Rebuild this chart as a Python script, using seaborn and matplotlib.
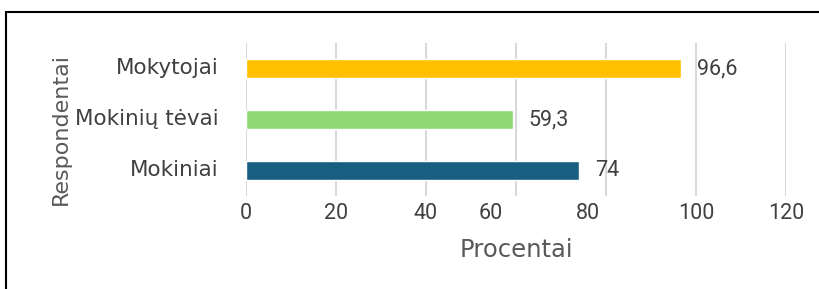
import matplotlib
matplotlib.use("Agg")
import matplotlib.pyplot as plt
import matplotlib.transforms as mtransforms
from matplotlib.patches import Rectangle
import seaborn as sns

# data
respondentai = ["Mokytojai", "Mokinių tėvai", "Mokiniai"]
procentai = [96.6, 59.3, 74]
spalvos = ["#FFC000", "#8FD872", "#175E80"]
x_ticks = [0, 20, 40, 60, 80, 100, 120]

sns.set_style("white")
plt.rcParams['font.family'] = ['DejaVu Sans']
skaiciai = ['Roboto', 'DejaVu Sans']  # narrower digits

fig = plt.figure(figsize=(8.19, 2.89), dpi=100)
ax = fig.add_axes([0.3004, 0.3218, 0.6593, 0.529])

sns.barplot(x=procentai, y=respondentai, hue=respondentai, palette=spalvos,
            width=0.37, legend=False, ax=ax, saturation=1)

ax.set_xlim(0, 120)
ax.set_xticks(x_ticks)
ax.set_xticklabels([str(t) for t in x_ticks], family=skaiciai, fontsize=15.5, color="#404040")
ax.grid(axis="x", color="#d9d9d9", linewidth=1.5)
ax.set_axisbelow(True)
for s in ax.spines.values():
    s.set_visible(False)
ax.tick_params(axis="both", length=0)
ax.tick_params(axis="x", pad=5)
ax.tick_params(axis="y", labelsize=15.5, labelcolor="#404040", pad=20)

# reference places the 60 and 80 labels a bit to the left
shifts = {"60": -25, "80": -18}
for lab in ax.get_xticklabels():
    dx = shifts.get(lab.get_text(), 0)
    if dx:
        lab.set_transform(lab.get_transform() +
                          mtransforms.ScaledTranslation(dx / 100, 0, fig.dpi_scale_trans))
for lab in ax.get_yticklabels():
    lab.set_transform(lab.get_transform() +
                      mtransforms.ScaledTranslation(0, 3 / 100, fig.dpi_scale_trans))

for cont in ax.containers:
    ax.bar_label(cont, labels=[f"{v:g}".replace(".", ",") for v in cont.datavalues],
                 padding=11.5, fontsize=15.5, color="#404040", family=skaiciai)

ax.set_xlabel("Procentai", fontsize=17.5, color="#595959", labelpad=10)
ax.set_ylabel("Respondentai", fontsize=16, color="#595959")
ax.yaxis.set_label_coords(-0.325, 0.435)

fig.patches.append(Rectangle((6 / 819, -0.2), 1.2, 1.2 + 0.958 - 1.0,
                             transform=fig.transFigure, fill=False,
                             edgecolor="black", linewidth=1.5))

fig.savefig("out.png", dpi=100)
